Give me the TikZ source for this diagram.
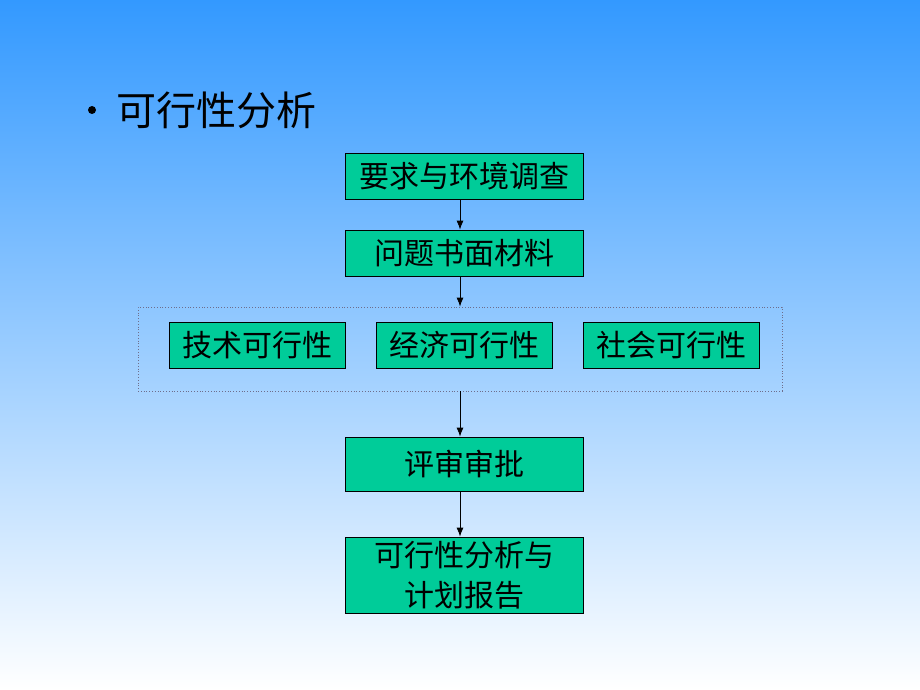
\documentclass[tikz,border=0pt]{standalone}
\usepackage{fontspec}
\newfontfamily\cjk{Noto Sans CJK SC}
\usetikzlibrary{arrows.meta}
\definecolor{boxgreen}{RGB}{0,204,153}
\definecolor{topblue}{RGB}{51,153,255}
\begin{document}
\begin{tikzpicture}[x=1pt,y=-1pt,
  stepbox/.style={draw=black,line width=0.8pt,fill=boxgreen,inner sep=0pt,
    minimum width=238pt,minimum height=46pt,align=center,
    font=\cjk\fontsize{30}{40}\selectfont},
  smallbox/.style={stepbox,minimum width=176pt},
  conn/.style={draw=black,line width=0.8pt,-{Latex[length=9pt,width=7pt]}}]
\shade[top color=topblue,bottom color=white] (0,0) rectangle (920,690);
\useasboundingbox (0,0) rectangle (920,690);
\fill[black] (92,110) circle (4pt);
\node[anchor=west,inner sep=0pt,font=\cjk\fontsize{40}{44}\selectfont] (title) at (116,110) {可行性分析};
\node[stepbox] (req) at (464,176) {要求与环境调查};
\node[stepbox] (doc) at (464,253) {问题书面材料};
\node[draw={rgb,255:red,110;green,110;blue,140},dotted,line width=0.8pt,minimum width=644pt,minimum height=84pt,inner sep=0pt] (grp) at (460,349) {};
\node[smallbox] (tech) at (257,345) {技术可行性};
\node[smallbox] (econ) at (464,345) {经济可行性};
\node[smallbox] (soc) at (671,345) {社会可行性};
\node[stepbox,minimum height=54pt] (rev) at (464,464) {评审审批};
\node[stepbox,minimum height=76pt] (rep) at (464,575) {可行性分析与\\计划报告};
\draw[conn] (req.south -| 460,0) -- (doc.north -| 460,0);
\draw[conn] (doc.south -| 460,0) -- (grp.north -| 460,0);
\draw[conn] (grp.south -| 460,0) -- (rev.north -| 460,0);
\draw[conn] (rev.south -| 460,0) -- (rep.north -| 460,0);
\end{tikzpicture}
\end{document}
